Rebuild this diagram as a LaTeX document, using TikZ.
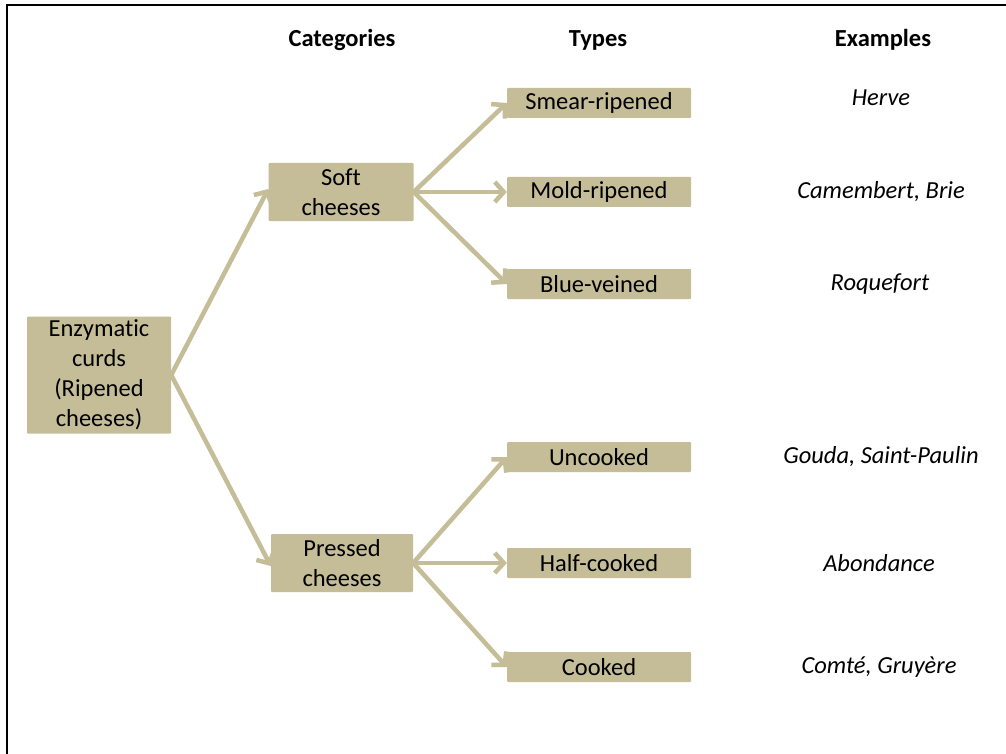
\documentclass[tikz,border=0pt]{standalone}
\usepackage{fontspec}
\setmainfont{Carlito}[RawFeature={-liga;-clig;-calt;-dlig}]
\usetikzlibrary{arrows.meta}
\definecolor{tan}{HTML}{C4BD97}
\begin{document}
\begin{tikzpicture}[x=1pt,y=-1pt,
  every node/.style={font=\fontsize{24.5}{30}\selectfont, inner sep=0pt},
  box/.style={fill=tan, rounded corners=1pt, align=center, text=black},
  typebox/.style={box, minimum width=184, minimum height=30},
  catbox/.style={box, minimum width=145, minimum height=58},
  head/.style={font=\fontsize{24.5}{30}\selectfont\bfseries},
  ex/.style={font=\fontsize{24.5}{30}\selectfont\itshape},
  conn/.style={draw=tan, line width=4.5pt, -{Straight Barb[length=9pt,width=20pt,line width=4.5pt]}}]
\useasboundingbox (0,0) rectangle (1006,754);
\fill[white] (0,0) rectangle (1006,754);
\draw[line width=2pt] (7,754) -- (7,5) -- (1006,5);

\node[head] (hcat) at (342,40) {Categories};
\node[head] (htyp) at (598,40) {Types};
\node[head] (hex) at (883,40) {Examples};

\node[box, minimum width=144, minimum height=117] (enz) at (99,375) {Enzym\kern0pt atic\\curds\\(Ripened\\cheeses)};
\node[catbox] (soft) at (341,192) {Sof\kern0pt t\\cheeses};
\node[catbox, minimum width=142] (press) at (342,563) {Pressed\\cheeses};

\node[typebox] (smear) at (599,103) {Smear-ripened};
\node[typebox] (mold) at (599,192) {Mold-ripened};
\node[typebox] (blue) at (599,284) {Blue-veined};
\node[typebox] (unc) at (599,457) {Uncooked};
\node[typebox] (half) at (599,563) {Half-cooked};
\node[typebox] (cook) at (599,667) {Cooked};

\node[ex] (e1) at (881,98) {Herve};
\node[ex] (e2) at (881,192) {Camembert, Brie};
\node[ex] (e3) at (880,284) {Roquefort};
\node[ex] (e4) at (881,457) {Gouda, Saint-Paulin};
\node[ex] (e5) at (879,563) {Abondance};
\node[ex] (e6) at (879,667) {Comté, Gruyère};

\draw[conn] (enz.east) -- ([yshift=3pt]soft.west);
\draw[conn] (enz.east) -- ([yshift=-3pt]press.west);
\draw[conn] (soft.east) -- (smear.west);
\draw[conn] (soft.east) -- (mold.west);
\draw[conn] (soft.east) -- (blue.west);
\draw[conn] (press.east) -- (unc.west);
\draw[conn] (press.east) -- (half.west);
\draw[conn] (press.east) -- (cook.west);
\end{tikzpicture}
\end{document}
